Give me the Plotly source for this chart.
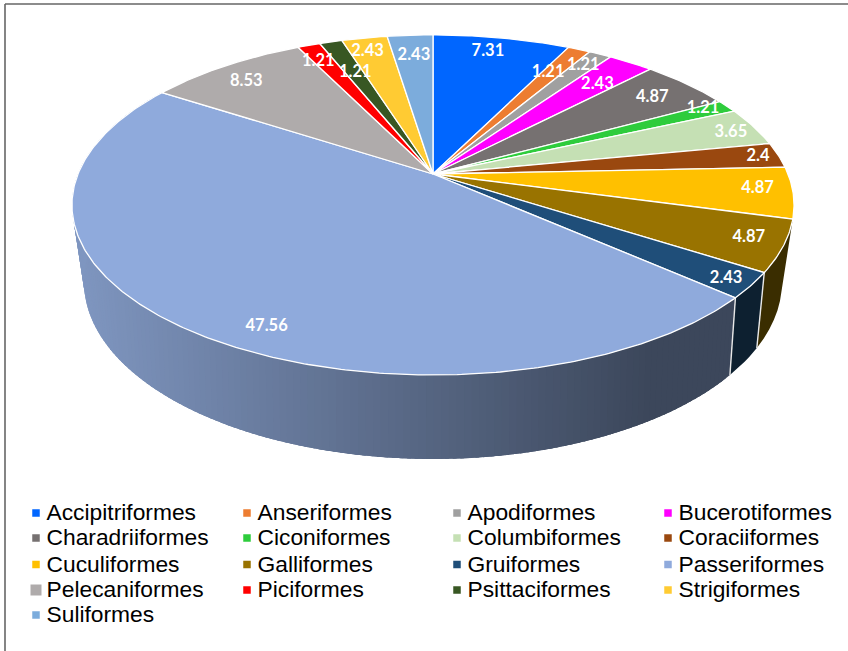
import math
import plotly.graph_objects as go

SPECIES = ["Accipitriformes", "Anseriformes", "Apodiformes", "Bucerotiformes",
           "Charadriiformes", "Ciconiformes", "Columbiformes", "Coraciiformes",
           "Cuculiformes", "Galliformes", "Gruiformes", "Passeriformes",
           "Pelecaniformes", "Piciformes", "Psittaciformes", "Strigiformes",
           "Suliformes"]
VALUES = [7.31, 1.21, 1.21, 2.43, 4.87, 1.21, 3.65, 2.4, 4.87, 4.87, 2.43, 47.56,
          8.53, 1.21, 1.21, 2.43, 2.43]
COLORS = ["#0066FF", "#ED7D31", "#A0A0A0", "#FF00FF", "#767171", "#2ECC3C", "#C5E0B4",
          "#9A480F", "#FFC000", "#997300", "#1F4E79", "#8FAADC", "#AFABAB", "#FF0000",
          "#385723", "#FFCB33", "#7CACDC"]
# label placement inside each slice: radial fraction and angle shift from the slice centre
LABEL_R = [.876, .782, .887, .79, .842, .924, .917, .939, .904, .907, .935, .891,
           .855, .861, .735, .884, .828]
LABEL_SHIFT = [-1.4, -.7, -.1, 1.1, .6, -1.1, 1.1, .3, -.7, -.3, .6, -10.5,
               -1.6, -1.3, .1, -.8, .1]

W, H = 848, 651
CX = 433
TOP = dict(cy=174, a=355, b=164.4, k=0.182)     # top disc projection
LOW = dict(cy=244.8, a=341.2, b=169.2, k=0.21)  # lower rim projection
TOTAL = sum(VALUES)


def disc(theta, r=1.0, low=False):
    g = LOW if low else TOP
    u, v = r * math.sin(theta), r * math.cos(theta)
    w = 1 + g["k"] * v
    return CX + g["a"] * u / w, g["cy"] - g["b"] * v / w


def arc(t0, t1, low=False, n=None):
    n = n or max(3, int(abs(t1 - t0) / 0.01))
    pts = [disc(t0 + (t1 - t0) * i / n, low=low) for i in range(n + 1)]
    return [p[0] for p in pts], [p[1] for p in pts]


def mix(c0, c1, f):
    f = min(1, max(0, f))
    return "rgb(%d,%d,%d)" % tuple(round(a + (b - a) * f) for a, b in zip(c0, c1))


starts, cum = [], 0.0
for val in VALUES:
    starts.append(cum / TOTAL * 2 * math.pi)
    cum += val
ends = starts[1:] + [2 * math.pi]
idx = {s: i for i, s in enumerate(SPECIES)}

fig = go.Figure()


def poly(xs, ys, color, line_color=None, lw=0.0, name=None):
    fig.add_trace(go.Scatter(x=xs, y=ys, mode="lines", fill="toself", fillcolor=color,
                             line=dict(color=line_color or color, width=lw),
                             hoverinfo="skip", showlegend=False, name=name))


# Side walls: each strip runs on past the next one, which paints over it, so no seams show
def wall(i, color_fn, n):
    t0, t1 = starts[i], ends[i]
    step = (t1 - t0) / n
    for j in range(n):
        a0 = t0 + step * j
        a1 = min(t1, a0 + step * 2.5)
        xa, ya = arc(a0, a1, n=6)
        xb, yb = arc(a1, a0, low=True, n=6)
        col = color_fn((xa[0] + xb[-1]) / 2)
        poly(xa + xb, ya + yb, col)


wall(idx["Passeriformes"],
     lambda x: mix((127, 150, 192), (60, 71, 91), (x - 80) / 570), 170)
wall(idx["Gruiformes"], lambda x: "#0D2030", 1)
wall(idx["Galliformes"], lambda x: "#3A2D00", 1)

for s in ("Galliformes", "Gruiformes"):
    t = ends[idx[s]]
    p, q = disc(t), disc(t, low=True)
    fig.add_trace(go.Scatter(x=[p[0], q[0]], y=[p[1], q[1]], mode="lines",
                             line=dict(color="#E8E8E8", width=1.4),
                             hoverinfo="skip", showlegend=False))

# Top faces
for i, s in enumerate(SPECIES):
    xs, ys = arc(starts[i], ends[i])
    poly([CX] + xs + [CX], [TOP["cy"]] + ys + [TOP["cy"]], COLORS[i], "white", 1.3, name=s)

# Data labels
lx, ly, lt = [], [], []
for i, v in enumerate(VALUES):
    mid = (starts[i] + ends[i]) / 2 + math.radians(LABEL_SHIFT[i])
    p = disc(mid, LABEL_R[i])
    lx.append(p[0]); ly.append(p[1]); lt.append(str(v))
fig.add_trace(go.Scatter(x=lx, y=ly, text=lt, mode="text", textposition="middle center",
                         textfont=dict(family="Lato", size=16.5, color="white", weight="bold"),
                         hoverinfo="skip", showlegend=False))

# Legend keys and names on a 4-column grid
COL_X = [36, 247, 457, 668]
ROW_Y = [513, 538, 564.5, 590, 615]
for i, s in enumerate(SPECIES):
    r, c = divmod(i, 4)
    fig.add_trace(go.Scatter(x=[COL_X[c]], y=[ROW_Y[r]], mode="markers", name=s,
                             marker=dict(symbol="square", color=COLORS[i],
                                         size=11 if s == "Pelecaniformes" else 7.5),
                             hoverinfo="skip", showlegend=False))
    fig.add_trace(go.Scatter(x=[COL_X[c] + 10.5], y=[ROW_Y[r] + 1.5], mode="text", text=[s],
                             textposition="middle right",
                             textfont=dict(family="Liberation Sans", size=22.8, color="#000"),
                             hoverinfo="skip", showlegend=False))

fig.update_layout(
    width=W, height=H, margin=dict(l=0, r=0, t=0, b=0),
    paper_bgcolor="white", plot_bgcolor="white", showlegend=False,
    xaxis=dict(range=[0, W], visible=False, fixedrange=True),
    yaxis=dict(range=[H, 0], visible=False, fixedrange=True),
    shapes=[
        dict(type="line", xref="paper", yref="paper", x0=5 / W, x1=5 / W, y0=0, y1=1 - 4 / H,
             line=dict(color="#666666", width=1.6)),
        dict(type="line", xref="paper", yref="paper", x0=5 / W, x1=1, y0=1 - 4 / H, y1=1 - 4 / H,
             line=dict(color="#666666", width=1.6)),
    ],
)
fig.write_html("out.html", config=dict(displayModeBar=False),
               post_script="document.body.style.margin='0';document.body.style.overflow='hidden';")
